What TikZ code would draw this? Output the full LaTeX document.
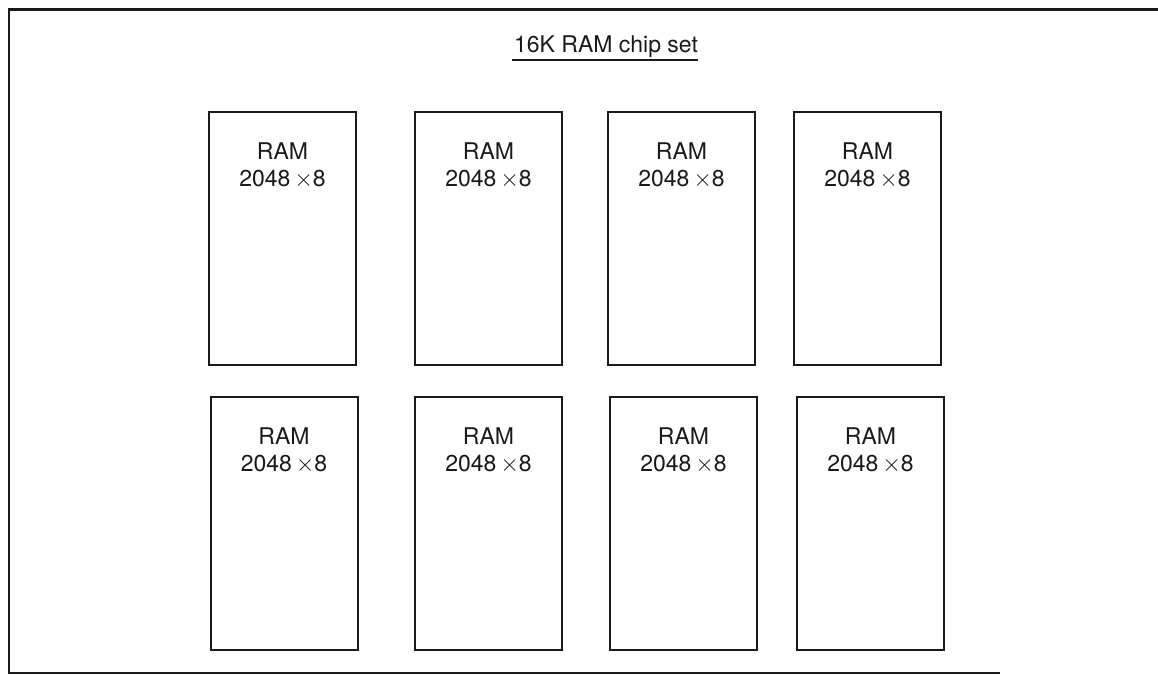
\documentclass[tikz,border=0pt]{standalone}
\usepackage{fontspec}
\setmainfont{TeX Gyre Heros}
\usetikzlibrary{positioning}
\definecolor{ink}{HTML}{1A1A1A}

\begin{document}
\begin{tikzpicture}[
  x=0.5pt,y=-0.5pt,
  font=\fontsize{11.5}{13.5}\selectfont,
  chip/.style={draw=ink,line width=1pt,minimum width=73.5pt,
               minimum height=126.5pt,inner sep=0pt},
  chiptxt/.style={inner sep=0pt,align=center,text=ink},
  frame/.style={draw=ink,line width=1.4pt},
]
\useasboundingbox (0,0) rectangle (1158,675);

% Outer frame
\coordinate (ftr) at (1158,9.5);
\coordinate (ftl) at (9,9.5);
\coordinate (fbl) at (9,673);
\coordinate (fbr) at (1000,673);
\draw[frame] (ftr) -- (ftl) -- (fbl) -- (fbr);

% Title
\node[inner sep=0pt,text=ink] (title) at (606,47) {16K RAM chip set};
\draw[ink,line width=0.9pt] ([xshift=-1pt,yshift=-3.6pt]title.base west)
  -- ([yshift=-3.6pt]title.base east);

% Upper row
\node[chip] (r1) at (282.5,238.5) {};
\node[chip] (r2) at (488.5,238.5) {};
\node[chip] (r3) at (681.5,238.5) {};
\node[chip] (r4) at (867.5,238.5) {};

% Lower row
\node[chip] (r5) at (284,523.5) {};
\node[chip] (r6) at (488.5,523.5) {};
\node[chip] (r7) at (683.5,523.5) {};
\node[chip] (r8) at (870.5,523.5) {};

% Chip labels
\node[chiptxt,below=15.5pt of r1.north] (t1) {RAM\\2048\,$\times$8};
\node[chiptxt,below=15.5pt of r2.north] (t2) {RAM\\2048\,$\times$8};
\node[chiptxt,below=15.5pt of r3.north] (t3) {RAM\\2048\,$\times$8};
\node[chiptxt,below=15.5pt of r4.north] (t4) {RAM\\2048\,$\times$8};
\node[chiptxt,below=15.5pt of r5.north] (t5) {RAM\\2048\,$\times$8};
\node[chiptxt,below=15.5pt of r6.north] (t6) {RAM\\2048\,$\times$8};
\node[chiptxt,below=15.5pt of r7.north] (t7) {RAM\\2048\,$\times$8};
\node[chiptxt,below=15.5pt of r8.north] (t8) {RAM\\2048\,$\times$8};

\end{tikzpicture}
\end{document}
